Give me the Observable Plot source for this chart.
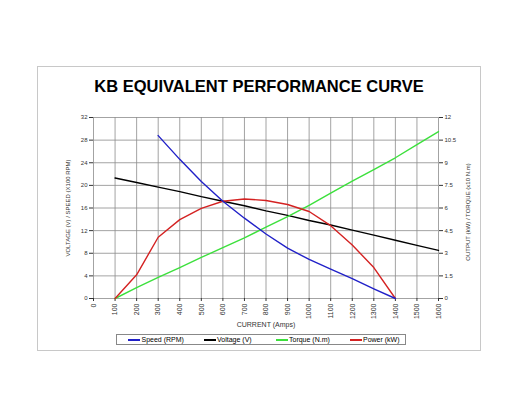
<!DOCTYPE html>
<html><head><meta charset="utf-8">
<script src="https://cdn.jsdelivr.net/npm/d3@7"></script>
<script src="https://cdn.jsdelivr.net/npm/@observablehq/plot@0.6"></script>
<style>
body{margin:0;background:#fff;font-family:"Liberation Sans",Arial,sans-serif;}
#wrap{position:relative;width:518px;height:400px;overflow:hidden;}
#frame{position:absolute;left:37px;top:66px;width:442px;height:283px;border:1px solid #c8c8c8;box-sizing:content-box;}
#title{position:absolute;left:37px;width:444px;top:78.3px;text-align:center;font-weight:bold;font-size:16.5px;line-height:16.5px;color:#000;white-space:nowrap;}
#legend{position:absolute;left:116px;top:334px;width:277px;height:9px;border:1px solid #888;display:flex;align-items:center;padding:0 0 0 11px;box-sizing:content-box;font-size:7px;line-height:8px;color:#000;background:#fff;white-space:nowrap;}
#legend .item{display:flex;align-items:center;}
#legend .sw{display:inline-block;width:12px;height:2px;margin-right:1.5px;}
#rlabel{position:absolute;left:468px;top:212px;font-size:6px;color:#333;white-space:nowrap;transform:translate(-50%,-50%) rotate(-90deg);}
#chart{position:absolute;left:0;top:0;}
</style></head>
<body>
<div id="wrap">
  <div id="frame"></div>
  <div id="chart"></div>
  <div id="title">KB EQUIVALENT PERFORMANCE CURVE</div>
  <div id="rlabel"></div>
  <div id="legend"></div>
</div>
<script>
// ---- data ----
const current = [100,200,300,400,500,600,700,800,900,1000,1100,1200,1300,1400,1500,1600];
const voltage = [21.3,20.5,19.7,18.9,18.0,17.2,16.4,15.5,14.7,13.8,13.0,12.1,11.2,10.3,9.4,8.5];      // V (left axis)
const torque  = [0,0.72,1.4,2.05,2.72,3.38,4.02,4.73,5.43,6.17,6.98,7.78,8.55,9.33,10.2,11.07];     // x10 N.m (right axis)
const speedCurrent = [300,400,500,600,700,800,900,1000,1100,1200,1300,1400];
const speed = [28.8,24.6,20.7,17.2,14.2,11.4,8.9,6.9,5.2,3.5,1.7,0];                                 // x100 RPM (left axis)
const powerCurrent = [100,200,300,400,500,600,700,800,900,1000,1100,1200,1300,1400];
const power = [0,1.57,4.06,5.23,5.98,6.45,6.6,6.5,6.23,5.77,4.83,3.55,2.05,0];                       // kW (right axis)

const xTicks = [0,100,200,300,400,500,600,700,800,900,1000,1100,1200,1300,1400,1500,1600];
const leftTicks = [0,4,8,12,16,20,24,28,32];
const rightTickLabels = ["0","1.5","3","4.5","6","7.5","9","10.5","12"];
const leftMax = 32, rightMax = 12;
const rightLabel = "OUTPUT (kW) / TORQUE (x10 N.m)";

const seriesNames = ["Speed (RPM)","Voltage (V)","Torque (N.m)","Power (kW)"];
const seriesColors = ["#2020c8","#000000","#3ce03c","#d42222"];
const legendItemWidths = [75.5, 72, 74, null];

// ---- tables ----
const toLeft = v => v * leftMax / rightMax;
const voltageData = current.map((c,i) => ({c, v: voltage[i]}));
const torqueData = current.map((c,i) => ({c, v: toLeft(torque[i])}));
const speedData = speedCurrent.map((c,i) => ({c, v: speed[i]}));
const powerData = powerCurrent.map((c,i) => ({c, v: toLeft(power[i])}));

const chart = Plot.plot({
  width: 518,
  height: 400,
  marginLeft: 93,
  marginRight: 80,
  marginTop: 117,
  marginBottom: 102,
  style: {fontFamily: "'Liberation Sans', Arial, sans-serif", fontSize: "6px", color: "#333", background: "transparent"},
  x: {domain: [0, 1600]},
  y: {domain: [0, leftMax]},
  marks: [
    Plot.gridX(xTicks, {stroke: "#8c8c8c", strokeOpacity: 1, strokeWidth: 0.8}),
    Plot.gridY(leftTicks, {stroke: "#8c8c8c", strokeOpacity: 1, strokeWidth: 0.8}),
    Plot.axisX(xTicks, {tickRotate: -90, tickSize: 3, tickPadding: 2, tickFormat: d => String(d),
      label: "CURRENT (Amps)", labelAnchor: "center", labelOffset: 28, labelArrow: false, fontSize: 7}),
    Plot.axisY(leftTicks, {anchor: "left", tickSize: 4, tickPadding: 2, tickFormat: d => String(d),
      label: "VOLTAGE (V) / SPEED (X100 RPM)", labelAnchor: "center", labelOffset: 28, labelArrow: false}),
    Plot.axisY(leftTicks, {anchor: "right", tickSize: 4, tickPadding: 2, tickFormat: d => rightTickLabels[leftTicks.indexOf(d)],
      label: null}),
    Plot.line(voltageData, {x: "c", y: "v", stroke: seriesColors[1], strokeWidth: 1.4}),
    Plot.line(torqueData, {x: "c", y: "v", stroke: seriesColors[2], strokeWidth: 1.4}),
    Plot.line(powerData, {x: "c", y: "v", stroke: seriesColors[3], strokeWidth: 1.4}),
    Plot.line(speedData, {x: "c", y: "v", stroke: seriesColors[0], strokeWidth: 1.4})
  ]
});
document.getElementById("chart").appendChild(chart);
document.getElementById("rlabel").textContent = rightLabel;

const legend = document.getElementById("legend");
seriesNames.forEach((name, i) => {
  const s = document.createElement("span");
  s.className = "item";
  if (legendItemWidths[i]) s.style.width = legendItemWidths[i] + "px";
  const sw = document.createElement("span");
  sw.className = "sw";
  sw.style.backgroundColor = seriesColors[i];
  s.appendChild(sw);
  s.appendChild(document.createTextNode(name));
  legend.appendChild(s);
});
</script>
</body></html>
